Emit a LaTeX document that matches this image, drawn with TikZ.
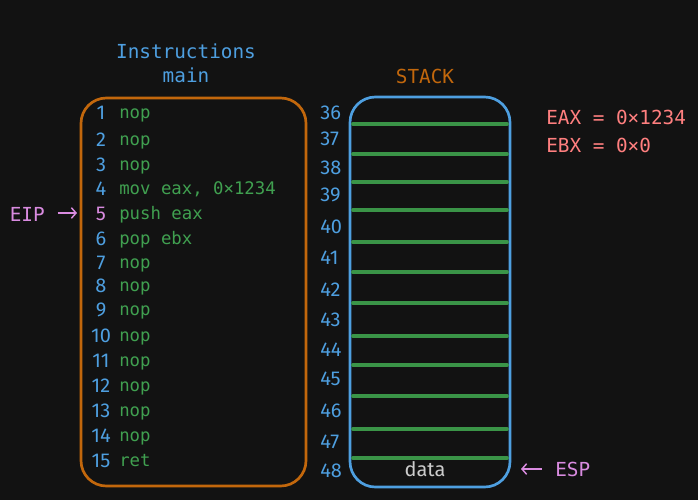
\documentclass[tikz,border=0pt]{standalone}
\usepackage{fontspec}
\setmainfont{DejaVu Sans Mono}
\newfontfamily\hand{Fira Sans}
\usetikzlibrary{arrows.meta}
\definecolor{bg}{HTML}{121212}
\definecolor{cblue}{HTML}{4E9FE0}
\definecolor{corange}{HTML}{C2670C}
\definecolor{cgreen}{HTML}{40A050}
\definecolor{cline}{HTML}{3A9447}
\definecolor{cviolet}{HTML}{D98BE0}
\definecolor{cred}{HTML}{FF7F7F}
\definecolor{cgray}{HTML}{CCCCCC}
\tikzset{
  title/.style={text=cblue, font=\fontsize{14.5}{16}\selectfont, inner sep=0pt},
  codetxt/.style={text=cgreen, anchor=mid west, font=\fontsize{13}{15}\selectfont, inner sep=0pt},
  linenum/.style={text=cblue, font=\hand\fontsize{15}{17}\selectfont, inner sep=0pt},
  addr/.style={text=cblue, anchor=west, font=\hand\fontsize{15}{17}\selectfont, inner sep=0pt},
  reg/.style={text=cred, anchor=west, font=\fontsize{14.5}{16}\selectfont, inner sep=0pt},
  ptr/.style={text=cviolet, font=\fontsize{14.5}{16}\selectfont, inner sep=0pt},
  ptrarrow/.style={draw=cviolet, line width=1.1pt, -{Straight Barb[length=3.5pt,width=8pt]}},
  slot/.style={draw=cline, line width=2.8pt, line cap=round},
  frame/.style={line width=2pt, rounded corners=19pt},
}
\begin{document}
\begin{tikzpicture}[x=0.75pt,y=-0.75pt]
\fill[bg] (0,0) rectangle (698,500);
\useasboundingbox (0,0) rectangle (698,500);

% titles
\node[title] (tInstr) at (186,51) {Instructions};
\node[title] (tMain) at (186,75) {main};
\node[title, text=corange] (tStack) at (425,76) {STACK};

% instruction box
\draw[corange, frame] (81,98) rectangle (306,486);

% instruction lines
\foreach \i/\y/\code in {1/113/nop, 2/140/nop, 3/165/nop, 4/189/{mov eax, 0×1234}, 6/239/pop ebx, 7/263/nop, 8/286/nop, 9/310/nop, 10/336/nop, 11/361/nop, 12/386/nop, 13/411/nop, 14/436/nop, 15/461/ret}{
  \node[linenum] (n\i) at (101,\y) {\i};
  \node[codetxt] (c\i) at (119,\y+2) {\code};
}
\node[linenum, text=cviolet] (n5) at (101,214) {5};
\node[codetxt] (c5) at (119,216) {push eax};

% EIP pointer
\node[ptr, anchor=east] (eip) at (45,214) {EIP};
\coordinate (eipend) at (77,213);
\draw[ptrarrow] ([xshift=9.5pt,yshift=0.75pt]eip.east) -- (eipend);

% stack box
\draw[cblue, frame] (350,97) rectangle (510,487);
\foreach \y in {124,154,182,210,242,272,303,336,365,396,429,458}{
  \draw[slot] (353,\y) -- (507,\y);
}

% addresses
\foreach \a/\y in {36/113, 37/139, 38/168, 39/195, 40/227, 41/258, 42/290, 43/320, 44/350, 45/379, 46/411, 47/442, 48/471}{
  \node[addr] (a\a) at (320,\y) {\a};
}
\node[text=cgray, font=\hand\fontsize{15}{17}\selectfont, inner sep=0pt] (data) at (425,469) {data};

% ESP pointer
\node[ptr, anchor=west] (esp) at (555,469) {ESP};
\coordinate (espend) at (521,469);
\draw[ptrarrow] ([xshift=-10pt]esp.west) -- (espend);

% registers
\node[reg] (eax) at (546,117) {EAX = 0×1234};
\node[reg] (ebx) at (546,145) {EBX = 0×0};
\end{tikzpicture}
\end{document}
